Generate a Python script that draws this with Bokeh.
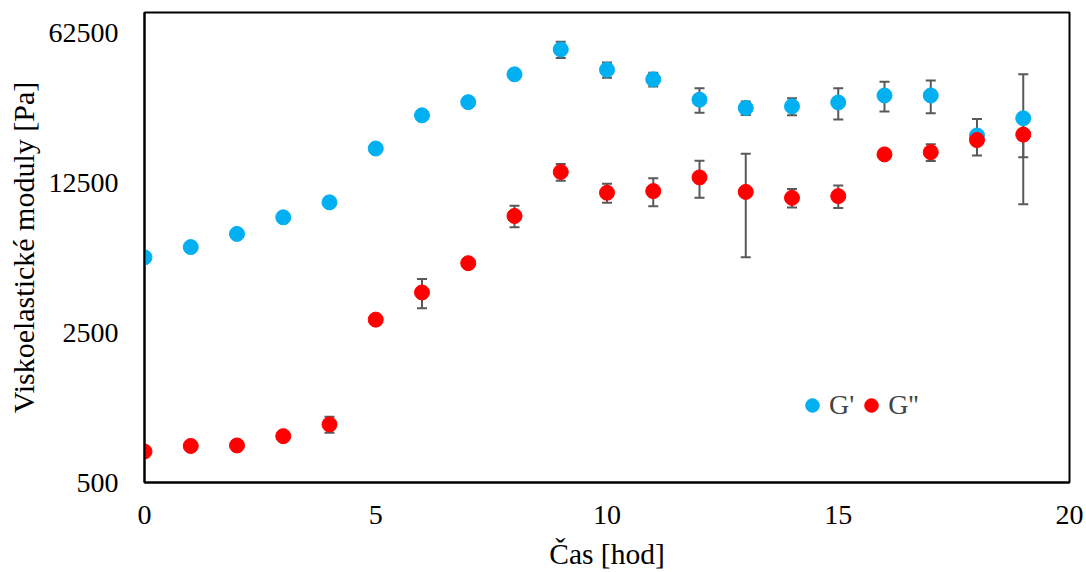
from bokeh.plotting import figure
from bokeh.models import (Range1d, FixedTicker, NumeralTickFormatter, Whisker,
                          ColumnDataSource, Legend, LegendItem, TeeHead)
from bokeh.embed import file_html
from bokeh.resources import INLINE

# Data
hours = [0, 1, 2, 3, 4, 5, 6, 7, 8, 9, 10, 11, 12, 13, 14, 15, 16, 17, 18, 19]
g_storage = [5600, 6250, 7200, 8600, 10100, 18000, 25700, 29600, 39900, 52100,
             41900, 37800, 30400, 27800, 28300, 29500, 31800, 31800, 20700, 24900]
g_storage_err = [0, 0, 0, 0, 0, 0, 0, 0, 0, 4500,
                 3400, 2800, 4000, 2000, 2600, 4900, 5000, 5500, 4000, 15000]
g_loss = [697, 740, 744, 822, 932, 2870, 3840, 5260, 8730, 14000,
          11200, 11400, 13200, 11300, 10600, 10800, 16900, 17300, 19700, 20900]
g_loss_err = [0, 0, 0, 0, 80, 0, 600, 150, 1000, 1250,
              1150, 1700, 2600, 5700, 1050, 1300, 0, 1550, 0, 4500]
y_ticks = [500, 2500, 12500, 62500]
x_ticks = [0, 5, 10, 15, 20]
x_title = "Čas [hod]"
y_title = "Viskoelastické moduly [Pa]"

FONT = "Liberation Serif"
BLUE = "#00B0F0"
RED = "#FF0000"
ERR = "#595959"

p = figure(width=1086, height=572, y_axis_type="log", output_backend="svg",
           toolbar_location=None,
           x_range=Range1d(0, 20), y_range=Range1d(500, 500 * 5 ** (470 / 150)),
           min_border_left=144, min_border_right=17, min_border_top=12,
           min_border_bottom=90)
p.background_fill_color = "white"
p.border_fill_color = "white"
p.outline_line_color = "black"
p.outline_line_width = 2
p.xgrid.visible = False
p.ygrid.visible = False

for ax in (p.xaxis[0], p.yaxis[0]):
    ax.axis_line_color = "black"
    ax.axis_line_width = 2
    ax.major_tick_line_color = None
    ax.minor_tick_line_color = None
    ax.major_tick_out = 0
    ax.major_tick_in = 0
    ax.minor_tick_out = 0
    ax.minor_tick_in = 0
    ax.major_label_text_font = FONT
    ax.major_label_text_font_size = "28px"
    ax.major_label_text_color = "black"
    ax.axis_label_text_font = FONT
    ax.axis_label_text_font_style = "normal"
    ax.axis_label_text_color = "black"

p.yaxis.ticker = FixedTicker(ticks=y_ticks)
p.yaxis.formatter = NumeralTickFormatter(format="0")
p.yaxis.major_label_standoff = 26
p.yaxis.axis_label = y_title
p.yaxis.axis_label_text_font_size = "30px"
p.yaxis.axis_label_standoff = 6

p.xaxis.ticker = FixedTicker(ticks=x_ticks)
p.xaxis.major_label_standoff = 23
p.xaxis.axis_label = x_title
p.xaxis.axis_label_text_font_size = "29.5px"
p.xaxis.axis_label_standoff = 11

src1 = ColumnDataSource(dict(
    x=hours, y=g_storage,
    lo=[v - e for v, e in zip(g_storage, g_storage_err)],
    hi=[v + e for v, e in zip(g_storage, g_storage_err)]))
src2 = ColumnDataSource(dict(
    x=hours, y=g_loss,
    lo=[v - e for v, e in zip(g_loss, g_loss_err)],
    hi=[v + e for v, e in zip(g_loss, g_loss_err)]))

for src in (src1, src2):
    w = Whisker(source=src, base="x", upper="hi", lower="lo", dimension="height",
                line_color=ERR, line_width=2, level="underlay",
                upper_head=TeeHead(size=10, line_color=ERR, line_width=2),
                lower_head=TeeHead(size=10, line_color=ERR, line_width=2))
    p.add_layout(w)

r1 = p.scatter("x", "y", source=src1, size=15, color=BLUE, line_color=BLUE)
r2 = p.scatter("x", "y", source=src2, size=15, color=RED, line_color=RED)

legend = Legend(items=[LegendItem(label="G'", renderers=[r1]),
                       LegendItem(label="G''", renderers=[r2])],
                orientation="horizontal", location=(651, 58),
                label_text_font=FONT, label_text_font_size="28px",
                glyph_width=34, glyph_height=38, label_standoff=0,
                spacing=-8, padding=0, margin=0,
                border_line_color=None, background_fill_alpha=0)
p.add_layout(legend)

open("out.html", "w").write(file_html(p, INLINE))
